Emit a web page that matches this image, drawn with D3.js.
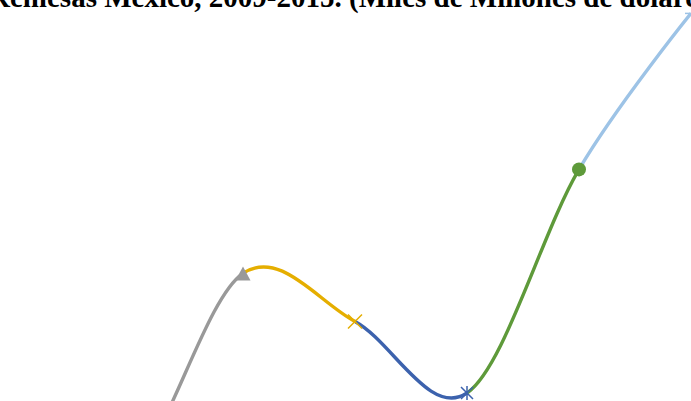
<!DOCTYPE html>
<html>
<head>
<meta charset="utf-8">
<script src="https://cdn.jsdelivr.net/npm/d3@7"></script>
<style>
  html, body { margin: 0; padding: 0; background: #fff; overflow: hidden; }
  svg { display: block; }
</style>
</head>
<body>
<svg id="chart" width="691" height="401"></svg>
<script>
// Remesas anuales (miles de millones de dólares)
const years = [2009, 2010, 2011, 2012, 2013, 2014, 2015];
const remesas = [21.30, 21.30, 22.82, 22.45, 21.90, 23.62, 24.82];
// Estilo de cada tramo (del año i al i+1) y marcador de cada año
const segmentColors = ["#999999", "#999999", "#E5AE00", "#3C62AD", "#5E9A3A", "#9DC3E6"];
const markerTypes = [null, null, "triangle", "cross", "star", "circle", "dash"];
const markerColors = [null, null, "#999999", "#E5AE00", "#3C62AD", "#5E9A3A", "#9DC3E6"];
const titleText = "Remesas México, 2009-2015. (Miles de Millones de dólares)";

const W = 691, H = 401;
const svg = d3.select("#chart");

const x = d3.scaleLinear().domain([2009, 2015]).range([19, 691]);
const y = d3.scaleLinear().domain([21.90, 24.82]).range([393, 13.4]);

const pts = years.map((yr, i) => [x(yr), y(remesas[i])]);

const line = d3.line().curve(d3.curveCardinal.tension(0));
const fullPath = line(pts);

const defs = svg.append("defs");

// Cada tramo: la curva completa recortada a su intervalo de años
for (let i = 0; i < years.length - 1; i++) {
  const x0 = x(years[i]), x1 = x(years[i + 1]);
  defs.append("clipPath").attr("id", "seg" + i)
    .append("rect")
    .attr("x", x0).attr("y", -50)
    .attr("width", x1 - x0).attr("height", H + 100);
  svg.append("path")
    .attr("d", fullPath)
    .attr("fill", "none")
    .attr("stroke", segmentColors[i])
    .attr("stroke-width", 3.4)
    .attr("clip-path", "url(#seg" + i + ")");
}

// Marcadores
const mk = svg.append("g");
years.forEach((yr, i) => {
  const t = markerTypes[i];
  if (!t) return;
  const cx = x(yr), cy = y(remesas[i]), c = markerColors[i];
  const g = mk.append("g").attr("transform", `translate(${cx},${cy})`);
  if (t === "triangle") {
    g.append("path").attr("d", "M0,-7 L7.5,7 L-7.5,7 Z").attr("fill", c);
  } else if (t === "cross") {
    g.append("path").attr("d", "M-7,-7 L7,7 M-7,7 L7,-7")
      .attr("stroke", c).attr("stroke-width", 1.5);
  } else if (t === "star") {
    g.append("path").attr("d", "M-6,-6 L6,6 M-6,6 L6,-6 M0,-7 L0,7")
      .attr("stroke", c).attr("stroke-width", 1.5);
  } else if (t === "circle") {
    g.append("circle").attr("r", 7).attr("fill", c);
  } else if (t === "dash") {
    g.append("path").attr("d", "M-6,0 L6,0").attr("stroke", c).attr("stroke-width", 1.5);
  }
});

// Título
svg.append("text")
  .attr("x", -11).attr("y", 7)
  .attr("font-family", "'Liberation Serif', 'Times New Roman', serif")
  .attr("font-weight", "bold")
  .attr("font-size", 29)
  .attr("fill", "#000")
  .text(titleText);
</script>
</body>
</html>
